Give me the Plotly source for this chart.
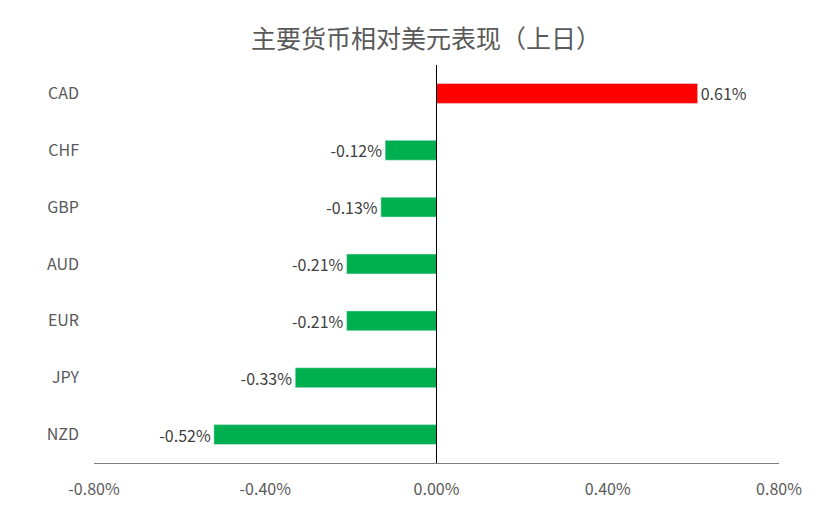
import plotly.graph_objects as go

currencies = ['CAD', 'CHF', 'GBP', 'AUD', 'EUR', 'JPY', 'NZD']
changes = [0.61, -0.12, -0.13, -0.21, -0.21, -0.33, -0.52]
tick_vals = [-0.8, -0.4, 0.0, 0.4, 0.8]
tick_text = ['-0.80%', '-0.40%', '0.00%', '0.40%', '0.80%']

colors = ['#FF0000' if v > 0 else '#00B050' for v in changes]
labels = [f'{v:.2f}%' for v in changes]

fig = go.Figure()
fig.add_trace(go.Bar(
    x=changes, y=currencies, orientation='h', width=0.35,
    marker_color=colors, text=labels, textposition='outside',
    constraintext='none',
    textfont=dict(size=16, color='#404040'), cliponaxis=False,
))

fig.update_layout(
    title=dict(text='主要货币相对美元表现（上日）', x=0.5, xanchor='center',
               y=0.94, yanchor='middle',
               font=dict(size=25, color='#595959')),
    width=836, height=517,
    margin=dict(l=86, r=65, t=57, b=62),
    plot_bgcolor='white', paper_bgcolor='white',
    font=dict(family='Noto Sans CJK SC, Liberation Sans', size=16, color='#595959'),
    showlegend=False,
    shapes=[dict(type='line', xref='x', yref='paper', x0=0, x1=0, y0=0, y1=1,
                 line=dict(color='black', width=1))],
)
fig.update_xaxes(range=[-0.8, 0.8], tickvals=tick_vals, ticktext=tick_text,
                 showgrid=False, zeroline=False, showline=True, linecolor='#7f7f7f',
                 ticks='', ticklabelstandoff=12)
fig.update_yaxes(autorange='reversed', showgrid=False, zeroline=False, showline=False,
                 ticks='', ticklabelstandoff=14)

fig.write_html('out.html')
